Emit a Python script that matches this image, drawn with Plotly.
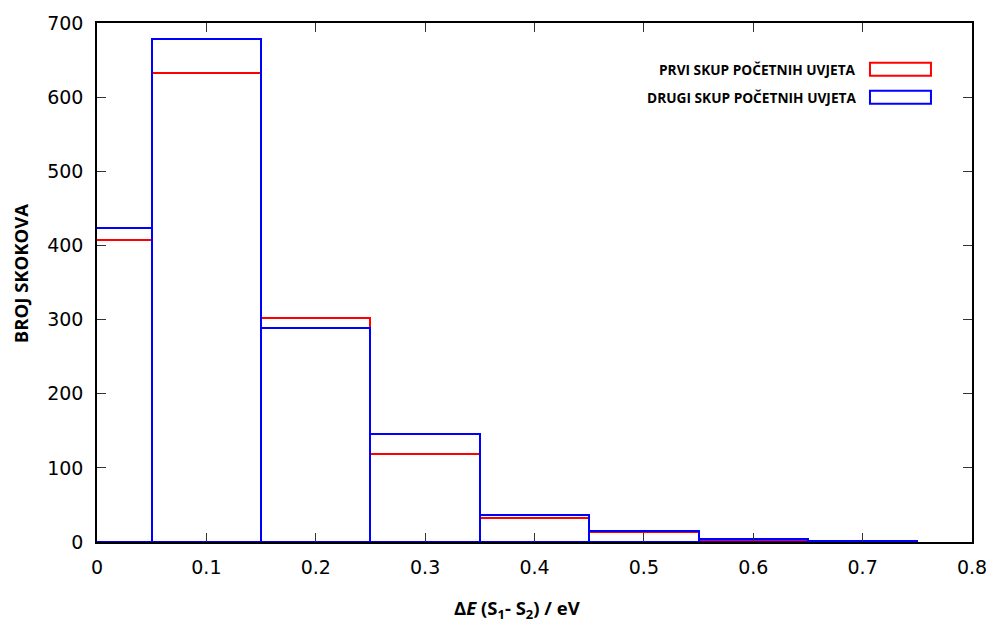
import plotly.graph_objects as go

# Data
bin_centers = [0.0, 0.1, 0.2, 0.3, 0.4, 0.5, 0.6, 0.7]
bin_width = 0.1
prvi = [407, 632, 302, 119, 32, 14, 3, 1]
drugi = [423, 678, 288, 146, 37, 15, 4, 2]
series_names = ["PRVI SKUP POČETNIH UVJETA", "DRUGI SKUP POČETNIH UVJETA"]
series_colors = ["#ff0000", "#0000ff"]
x_ticks = [0, 0.1, 0.2, 0.3, 0.4, 0.5, 0.6, 0.7, 0.8]
x_tick_labels = ["0", "0.1", "0.2", "0.3", "0.4", "0.5", "0.6", "0.7", "0.8"]
y_ticks = [0, 100, 200, 300, 400, 500, 600, 700]

fig = go.Figure()
for vals, name, col in zip([prvi, drugi], series_names, series_colors):
    fig.add_trace(go.Bar(
        x=bin_centers, y=vals, width=[bin_width] * len(bin_centers), name=name,
        marker=dict(color="rgba(0,0,0,0)", line=dict(color=col, width=2)),
        showlegend=False,
    ))

# Custom gnuplot-style legend (text right, sample box to the right)
leg_y = [0.911, 0.857]
for name, col, yy in zip(series_names, series_colors, leg_y):
    fig.add_annotation(xref="paper", yref="paper", x=0.8697, y=yy, text="<b>" + name + "</b>",
                       showarrow=False, xanchor="right", yanchor="middle",
                       font=dict(family="Open Sans", size=13.7, color="black"))
    fig.add_shape(type="rect", xref="paper", yref="paper",
                  x0=0.8834, x1=0.9531, y0=yy - 0.0125, y1=yy + 0.0125,
                  line=dict(color=col, width=2), fillcolor="rgba(0,0,0,0)")

# Axis titles
fig.add_annotation(xref="paper", yref="paper", x=0.48, y=-0.13,
                   text="<b>Δ<i>E</i> (S<sub>1</sub>- S<sub>2</sub>) / eV</b>",
                   showarrow=False, xanchor="center", yanchor="middle",
                   font=dict(family="Open Sans", size=18.5, color="black"))
fig.add_annotation(xref="paper", yref="paper", x=-0.088, y=0.518,
                   text="<b>BROJ SKOKOVA</b>", textangle=-90,
                   showarrow=False, xanchor="center", yanchor="middle",
                   font=dict(family="Open Sans", size=18.5, color="black"))

fig.update_layout(
    width=983, height=616,
    margin=dict(l=89, r=19, t=15, b=82),
    paper_bgcolor="white", plot_bgcolor="white",
    barmode="overlay", bargap=0,
    font=dict(family="DejaVu Sans", size=19, color="black"),
)
fig.update_xaxes(
    range=[0, 0.8], tickvals=x_ticks, ticktext=x_tick_labels,
    ticks="inside", ticklen=9, tickwidth=1.3, tickcolor="#333",
    showline=True, linecolor="black", linewidth=1.5, mirror="allticks",
    showgrid=False, zeroline=False, automargin=False, ticklabeloverflow="allow",
    ticklabelstandoff=7,
)
fig.update_yaxes(
    range=[0, 700], tickvals=y_ticks,
    ticks="inside", ticklen=9, tickwidth=1.3, tickcolor="#333",
    showline=True, linecolor="black", linewidth=1.5, mirror="allticks",
    showgrid=False, zeroline=False, automargin=False, ticklabeloverflow="allow",
    ticklabelstandoff=8,
)

fig.write_html("out.html")
